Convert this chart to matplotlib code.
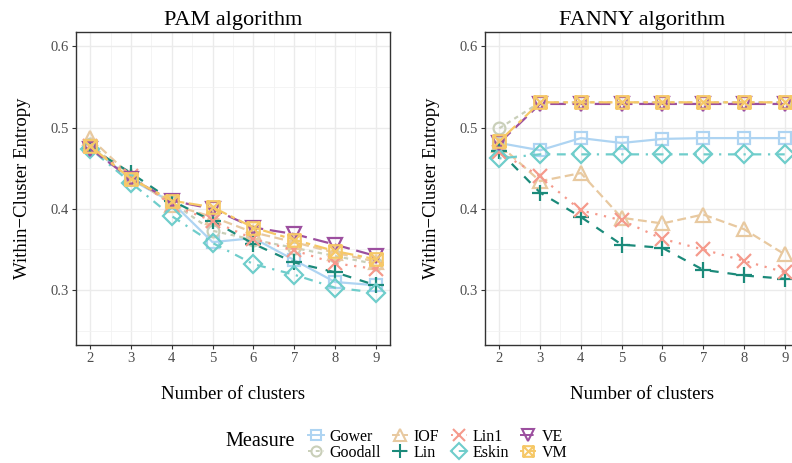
import numpy as np
import matplotlib
matplotlib.use("Agg")
import matplotlib.pyplot as plt
from matplotlib.path import Path
from matplotlib.lines import Line2D

plt.rcParams['font.family'] = ['Liberation Serif', 'DejaVu Serif']

clusters = [2, 3, 4, 5, 6, 7, 8, 9]
measures = ["Gower", "Goodall", "IOF", "Lin", "Lin1", "Eskin", "VE", "VM"]

# PAM algorithm
pam_gower = [0.477, 0.436, 0.408, 0.359, 0.364, 0.337, 0.310, 0.306]
pam_goodall = [0.480, 0.437, 0.408, 0.373, 0.362, 0.352, 0.342, 0.332]
pam_iof = [0.487, 0.440, 0.405, 0.390, 0.371, 0.359, 0.346, 0.335]
pam_lin = [0.475, 0.444, 0.410, 0.385, 0.357, 0.334, 0.322, 0.306]
pam_lin1 = [0.477, 0.440, 0.405, 0.385, 0.363, 0.349, 0.333, 0.326]
pam_eskin = [0.474, 0.432, 0.391, 0.358, 0.332, 0.319, 0.303, 0.297]
pam_ve = [0.474, 0.437, 0.410, 0.400, 0.377, 0.369, 0.356, 0.342]
pam_vm = [0.477, 0.437, 0.410, 0.402, 0.377, 0.362, 0.348, 0.338]

# FANNY algorithm
fanny_gower = [0.481, 0.472, 0.487, 0.481, 0.486, 0.487, 0.487, 0.487]
fanny_goodall = [0.499, 0.531, 0.531, 0.531, 0.531, 0.531, 0.531, 0.531]
fanny_iof = [0.479, 0.434, 0.444, 0.389, 0.382, 0.393, 0.375, 0.344]
fanny_lin = [0.471, 0.420, 0.390, 0.356, 0.352, 0.325, 0.318, 0.314]
fanny_lin1 = [0.470, 0.440, 0.398, 0.386, 0.363, 0.350, 0.336, 0.322]
fanny_eskin = [0.462, 0.467, 0.467, 0.467, 0.467, 0.467, 0.467, 0.467]
fanny_ve = [0.481, 0.529, 0.529, 0.529, 0.529, 0.529, 0.529, 0.529]
fanny_vm = [0.483, 0.531, 0.531, 0.531, 0.531, 0.531, 0.531, 0.531]

pam = [pam_gower, pam_goodall, pam_iof, pam_lin, pam_lin1, pam_eskin, pam_ve, pam_vm]
fanny = [fanny_gower, fanny_goodall, fanny_iof, fanny_lin, fanny_lin1,
         fanny_eskin, fanny_ve, fanny_vm]

colors = ["#aed4f2", "#c9cfb9", "#e8c9a0", "#1b8a7a",
          "#f59a8c", "#6fcdcb", "#9c4f9f", "#f6c867"]

# square with a cross in it (ggplot shape 7)
sq_x = Path([(-1, -1), (1, -1), (1, 1), (-1, 1), (-1, -1),
             (-1, -1), (1, 1), (-1, 1), (1, -1)],
            [Path.MOVETO, Path.LINETO, Path.LINETO, Path.LINETO, Path.CLOSEPOLY,
             Path.MOVETO, Path.LINETO, Path.MOVETO, Path.LINETO])
markers = ["s", "o", "^", "+", "x", "D", "v", sq_x]
msizes = [9, 8.5, 10, 12, 10, 9, 10, 9]
styles = ["solid", (0, (2, 2)), (0, (4, 2)), (0, (4, 4)), (0, (1, 3)),
          (0, (1, 3, 4, 3)), (0, (7, 3)), (0, (2, 2, 6, 2))]

fig = plt.figure(figsize=(7.92, 4.63), dpi=100)
ax1 = fig.add_axes([76 / 792, 118 / 463, 314 / 792, 313 / 463])
ax2 = fig.add_axes([485 / 792, 118 / 463, 314 / 792, 313 / 463])

for ax, data, title in [(ax1, pam, "PAM algorithm"), (ax2, fanny, "FANNY algorithm")]:
    for i, vals in enumerate(data):
        ax.plot(clusters, vals, color=colors[i], linestyle=styles[i], linewidth=1.6,
                marker=markers[i], markersize=msizes[i], markerfacecolor="none",
                markeredgewidth=1.6, markeredgecolor=colors[i], zorder=3 + i)
    ax.set_xlim(1.65, 9.35)
    ax.set_ylim(0.2325, 0.6175)
    ax.set_xticks(clusters)
    ax.set_yticks([0.3, 0.4, 0.5, 0.6])
    ax.set_xticks(np.arange(2.5, 9, 1), minor=True)
    ax.set_yticks([0.25, 0.35, 0.45, 0.55], minor=True)
    ax.grid(which="major", color="#ebebeb", linewidth=1.0)
    ax.grid(which="minor", color="#f2f2f2", linewidth=0.6)
    ax.set_axisbelow(True)
    ax.tick_params(which="minor", length=0)
    ax.tick_params(which="major", length=3, color="#333333", labelcolor="#4d4d4d",
                   labelsize=10.5, pad=2)
    for sp in ax.spines.values():
        sp.set_color("#333333")
        sp.set_linewidth(1.0)
    ax.set_title(title, fontsize=16, pad=5)
    ax.set_xlabel("Number of clusters", fontsize=13.5, labelpad=15)
    ax.set_ylabel("Within\u2212Cluster Entropy", fontsize=13.5, labelpad=14)

handles = [Line2D([0], [0], color=colors[i], linestyle=styles[i], linewidth=1.4,
                  marker=markers[i], markersize=msizes[i] * 0.85, markerfacecolor="none",
                  markeredgewidth=1.5) for i in range(len(measures))]
fig.legend(handles, measures, ncol=4, loc="center left",
           bbox_to_anchor=(300 / 792, 18 / 463),
           frameon=False, fontsize=11.5, handlelength=1.0, handletextpad=0.35,
           columnspacing=0.7, labelspacing=0.0, borderpad=0)
fig.text(225 / 792, 22 / 463, "Measure", fontsize=14.5, va="center", ha="left")

fig.savefig("out.png", dpi=100)
